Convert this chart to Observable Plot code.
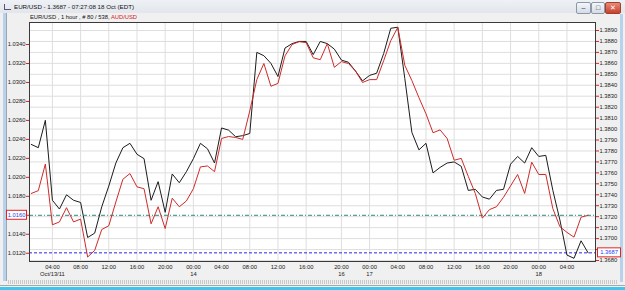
<!DOCTYPE html>
<html><head><meta charset="utf-8">
<script src="https://cdn.jsdelivr.net/npm/d3@7"></script>
<script src="https://cdn.jsdelivr.net/npm/@observablehq/plot@0.6"></script>
<style>
body{margin:0;background:#f0f0f0;}
#win{position:relative;width:625px;height:290px;overflow:hidden;background:#f0f0f0;font-family:"Liberation Sans",Arial,sans-serif;color:#111;}
#win svg{position:absolute;left:0;top:0;}
.abs{position:absolute;}
#titlebar{left:0;top:0;width:625px;height:13px;background:linear-gradient(#eef1f5,#e2e6ec);}
#title{left:14px;top:3px;font-size:6.2px;white-space:nowrap;}
#icon{left:4px;top:4px;width:6px;height:5px;border-left:1px solid #557;border-bottom:1px solid #557;}
#header{left:30px;top:14px;font-size:5.8px;white-space:nowrap;}
.btn{top:2px;height:10px;border:1px solid #8c98a8;border-radius:2px;background:linear-gradient(#f4f7fb,#d5dce6);font-size:7px;line-height:9px;text-align:center;color:#334;}
#lstrip{left:3px;top:13px;width:3px;height:268px;background:#b9d2ec;}
#lline{left:6px;top:13px;width:1px;height:268px;background:#9aa6b6;}
#rstrip{left:620px;top:14px;width:3px;height:268px;background:#b9d2ec;}
#dots{left:8px;top:280px;width:610px;height:4px;background:repeating-linear-gradient(90deg,#c8c8c8 0 1px,#f0f0f0 1px 2px);}
#gline{left:0;top:285px;width:625px;height:1px;background:#a8a8a8;}
#cyan{left:0;top:287px;width:625px;height:3px;background:#3ec6ee;}
</style></head><body><div id="win">
<div id="titlebar" class="abs"></div>
<div id="icon" class="abs"></div>
<div id="title" class="abs">EUR/USD - 1.3687 - 07:27:08  18 Oct (EDT)</div>
<div class="abs btn" style="left:576px;width:13px;">&#8211;</div>
<div class="abs btn" style="left:591px;width:12px;">&#9633;</div>
<div class="abs btn" style="left:605px;width:14px;background:linear-gradient(#e88a7a,#c8402c);color:#fff;border-color:#a04030;">&#10005;</div>
<div id="lstrip" class="abs"></div><div id="lline" class="abs"></div>
<div id="rstrip" class="abs"></div>
<div id="dots" class="abs"></div><div id="gline" class="abs"></div><div id="cyan" class="abs"></div>
<div id="header" class="abs">EUR/USD , 1 hour , # 80 / 538, <span style="color:#d02020">AUD/USD</span></div>
</div>
<script>
const barIndex = d3.range(-3, 77);
const eurUsd = [1.3786,1.3783,1.3808,1.3735,1.3727,1.3740,1.3735,1.3733,1.3701,1.3705,
1.3729,1.3748,1.3769,1.3783,1.3787,1.3777,1.3773,1.3735,1.3752,1.3724,
1.3759,1.3751,1.3761,1.3773,1.3787,1.3782,1.3769,1.3801,1.3799,1.3793,
1.3794,1.3796,1.3870,1.3867,1.3860,1.3848,1.3874,1.3878,1.3880,1.3880,
1.3868,1.3880,1.3878,1.3873,1.3863,1.3861,1.3853,1.3844,1.3849,1.3851,
1.3869,1.3892,1.3893,1.3846,1.3797,1.3781,1.3787,1.3760,1.3765,1.3769,
1.3770,1.3766,1.3744,1.3745,1.3738,1.3736,1.3744,1.3745,1.3768,1.3775,
1.3769,1.3783,1.3775,1.3776,1.3744,1.3717,1.3685,1.3682,1.3698,1.3687];
const audUsd = [1.0183,1.0186,1.0214,1.0150,1.0153,1.0168,1.0153,1.0156,1.0116,1.0123,
1.0145,1.0149,1.0174,1.0198,1.0204,1.0190,1.0188,1.0151,1.0169,1.0146,
1.0178,1.0169,1.0175,1.0188,1.0211,1.0212,1.0206,1.0241,1.0243,1.0242,
1.0240,1.0270,1.0303,1.0320,1.0296,1.0299,1.0328,1.0340,1.0343,1.0342,
1.0326,1.0324,1.0341,1.0316,1.0322,1.0320,1.0312,1.0300,1.0303,1.0303,
1.0323,1.0344,1.0358,1.0318,1.0302,1.0284,1.0267,1.0247,1.0250,1.0241,
1.0218,1.0220,1.0201,1.0183,1.0157,1.0166,1.0169,1.0179,1.0191,1.0203,
1.0183,1.0216,1.0203,1.0203,1.0167,1.0148,1.0142,1.0137,1.0158,1.0160];
const eurTicks = [1.3680,1.3690,1.3700,1.3710,1.3720,1.3730,1.3740,1.3750,1.3760,1.3770,1.3780,
1.3790,1.3800,1.3810,1.3820,1.3830,1.3840,1.3850,1.3860,1.3870,1.3880,1.3890];
const audTicks = [1.0120,1.0140,1.0160,1.0180,1.0200,1.0220,1.0240,1.0260,1.0280,1.0300,1.0320,1.0340];
const tickIdx = [0,4,8,12,16,20,24,28,32,36,41,45,49,53,57,61,65,69,73];
const tickHours = ["04:00","08:00","12:00","16:00","20:00","00:00","04:00","08:00","12:00","16:00",
"20:00","00:00","04:00","08:00","12:00","16:00","20:00","00:00","04:00"];
const dateIdx = [0,20,41,45,69];
const dateLabels = ["Oct/13/11","14","16","17","18"];
const eurLast = eurUsd[eurUsd.length-1];
const audLast = audUsd[audUsd.length-1];

const FONT = "Liberation Sans, Arial, sans-serif";
const common = {
  width:625, height:290, marginLeft:29, marginRight:30, marginTop:22, marginBottom:29,
  style:{background:"transparent", fontFamily:FONT, fontSize:"5.8px", color:"#1a1a1a", overflow:"visible"}
};
const xDom = [-3.25, 77.05];
// tick labels hidden under the current-price boxes
const hiddenUnderBox = (v, last) => Math.abs(v - last) < 0.0005;

const eurPlot = Plot.plot({
  ...common,
  x:{domain:xDom},
  y:{domain:[1.36791,1.38973]},
  marks:[
    Plot.frame({fill:"white", stroke:null}),
    Plot.gridY(eurTicks, {stroke:"#dedede", strokeOpacity:1}),
    Plot.gridX(tickIdx, {stroke:"#dedede", strokeOpacity:1}),
    Plot.ruleY([eurLast], {stroke:"#2626e8", strokeDasharray:"3,2"}),
    Plot.line(barIndex, {x:d=>d, y:(d,i)=>eurUsd[i], stroke:"#1c1c1c", strokeWidth:1}),
    Plot.axisY({anchor:"right", ticks:eurTicks,
      tickFormat:d=>hiddenUnderBox(d, eurLast) ? "" : d.toFixed(4), tickSize:3, tickPadding:1,
      stroke:"#e02020", fill:"#1a1a1a", textAnchor:"start"}),
    Plot.axisX({ticks:tickIdx, tickFormat:(d)=>tickHours[tickIdx.indexOf(d)], tickSize:0, tickPadding:3, fill:"#1a1a1a"}),
    Plot.axisX({ticks:dateIdx, tickFormat:(d)=>dateLabels[dateIdx.indexOf(d)], tickSize:0, tickPadding:10.5, fill:"#1a1a1a"})
  ]
});

const audPlot = Plot.plot({
  ...common,
  x:{domain:xDom, axis:null},
  y:{domain:[1.01113,1.03632]},
  marks:[
    Plot.ruleY([audLast], {stroke:"#2a8a78", strokeDasharray:"4,2,1,2"}),
    Plot.line(barIndex, {x:d=>d, y:(d,i)=>audUsd[i], stroke:"#cf2a2a", strokeWidth:1}),
    Plot.axisY({anchor:"left", ticks:audTicks,
      tickFormat:d=>hiddenUnderBox(d, audLast) ? "" : d.toFixed(4), tickSize:3, tickPadding:1,
      stroke:"#e02020", fill:"#1a1a1a"}),
    Plot.frame({stroke:"#3a3a3a"})
  ]
});

function addBox(plot, value, x, w, label) {
  const y = plot.scale("y").apply(value);
  const g = d3.select(plot).append("g");
  g.append("rect").attr("x", x).attr("y", y - 4.5).attr("width", w).attr("height", 9)
    .attr("fill", "white").attr("stroke", "#e82020").attr("stroke-width", 1);
  g.append("text").attr("x", x + w / 2).attr("y", y).attr("dy", "0.35em")
    .attr("text-anchor", "middle").attr("fill", "#2840f0")
    .style("font-size", "5.8px").style("font-family", FONT).text(label);
}
addBox(eurPlot, eurLast, 597.5, 23, eurLast.toFixed(4));
addBox(audPlot, audLast, 6.5, 20, audLast.toFixed(4));

const win = document.getElementById("win");
win.appendChild(eurPlot);
win.appendChild(audPlot);
</script>
</body></html>
